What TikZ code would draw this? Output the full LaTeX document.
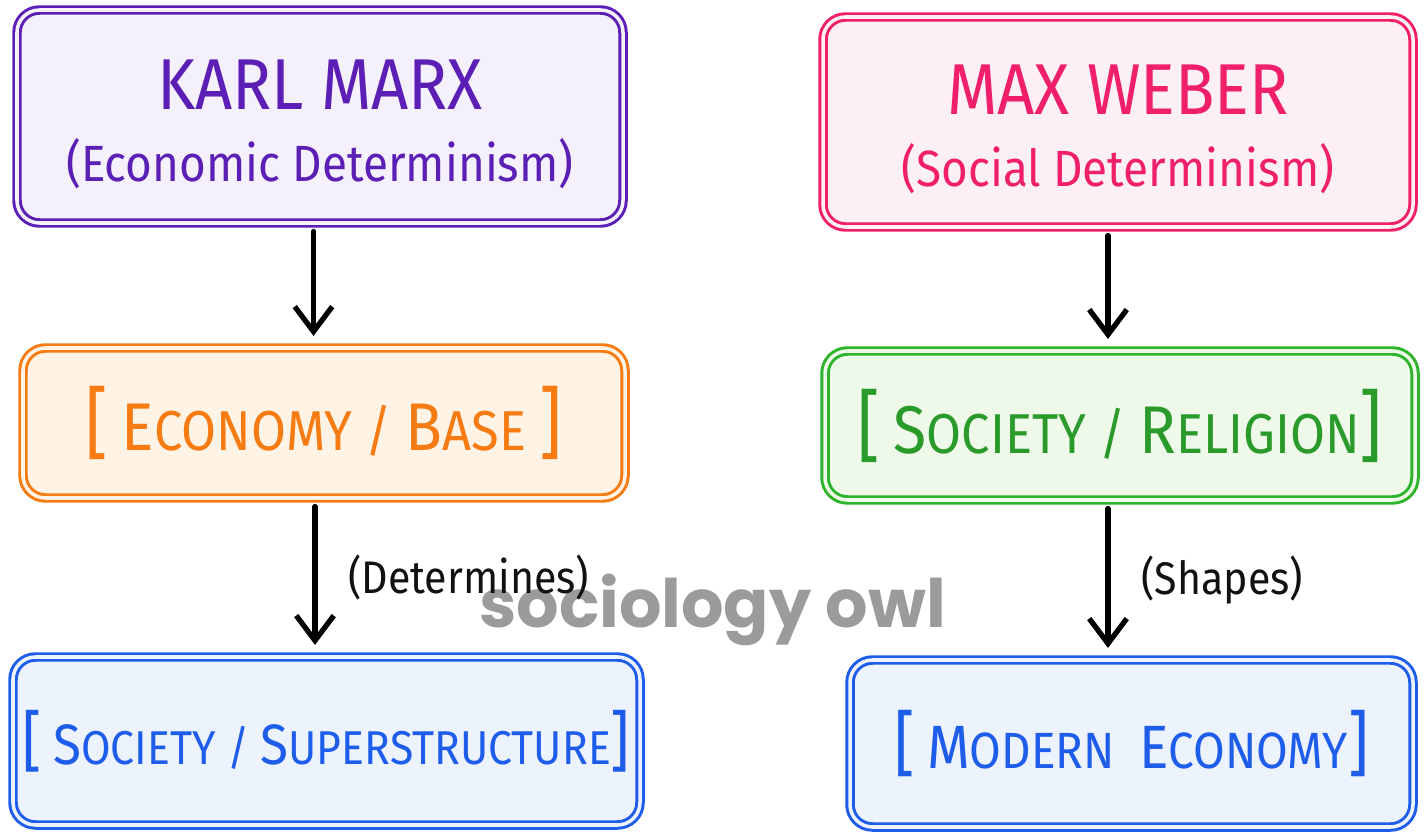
\documentclass[tikz,border=0pt]{standalone}
\usepackage{fontspec}
\setmainfont{Fira Sans}[FakeStretch=0.9]
\newfontfamily\markfont{Poppins}
\usetikzlibrary{arrows.meta,positioning}
\definecolor{ink}{HTML}{111111}
\definecolor{plum}{HTML}{5B1FB5}
\definecolor{plumfill}{HTML}{F4F0FC}
\definecolor{rose}{HTML}{F01F6A}
\definecolor{rosefill}{HTML}{FDF0F5}
\definecolor{amber}{HTML}{F57B12}
\definecolor{amberfill}{HTML}{FEF3E4}
\definecolor{leaf}{HTML}{2DB42A}
\definecolor{leaftext}{HTML}{2A9B2A}
\definecolor{leaffill}{HTML}{EEF9EA}
\definecolor{sky}{HTML}{1E5CEA}
\definecolor{skyfill}{HTML}{EDF3FD}
\definecolor{mark}{HTML}{9B9B9B}
\makeatletter
\newcommand\inl[1]{{\fontsize{\strip@pt\dimexpr\f@size pt*6/5\relax}{0}\selectfont #1}}
\newcommand\sqb[1]{{\fontsize{\strip@pt\dimexpr\f@size pt*7/5\relax}{0}\selectfont #1}}
\makeatother

\begin{document}
\begin{tikzpicture}[x=1cm,y=1cm,every node/.style={text=ink},card/.style={rounded corners=.45cm,line width=1.7pt,double distance=2pt,align=center,inner sep=0pt},head/.style={font=\fontsize{29}{41}\selectfont},tag/.style={font=\fontsize{#1}{#1}\selectfont},note/.style={font=\fontsize{26}{26}\selectfont,anchor=west},flow/.style={-{Straight Barb[length=5mm,width=7.5mm]},line width=3pt,line cap=round,shorten <=4pt,shorten >=6pt}]
\useasboundingbox (0,0) rectangle (28.52,16.76);

\node[card,head,draw=plum,double=plumfill,fill=plumfill,text=plum,minimum width=12.12cm,minimum height=4.26cm] (marx) at (6.4,14.43) {{\fontsize{41}{41}\selectfont\rule{0pt}{1.3cm}KARL MARX}\\(Economic Determinism)};
\node[card,head,draw=rose,double=rosefill,fill=rosefill,text=rose,minimum width=11.8cm,minimum height=4.2cm] (weber) at (22.36,14.32) {{\fontsize{41}{41}\selectfont\rule{0pt}{1.3cm}MAX WEBER}\\(Social Determinism)};
\node[card,tag=32,draw=amber,double=amberfill,fill=amberfill,text=amber,minimum width=12.04cm,minimum height=3cm] (base) at (6.48,8.3) {\sqb{[}\ \inl{E}CONOMY / \inl{B}ASE \sqb{]}};
\node[card,tag=32,draw=leaf,double=leaffill,fill=leaffill,text=leaftext,minimum width=11.8cm,minimum height=2.98cm] (religion) at (22.4,8.25) {\sqb{[}\ \inl{S}OCIETY / \inl{R}ELIGION\sqb{]}};
\node[card,tag=27,draw=sky,double=skyfill,fill=skyfill,text=sky,minimum width=12.54cm,minimum height=3.36cm] (superstructure) at (6.53,1.94) {\sqb{[}\ \inl{S}OCIETY / \inl{S}UPERSTRUCTURE\sqb{]}};
\node[card,tag=29,draw=sky,double=skyfill,fill=skyfill,text=sky,minimum width=11.26cm,minimum height=3.34cm] (modern) at (22.63,1.89) {\sqb{[}\ \inl{M}ODERN \ \inl{E}CONOMY\sqb{]}};

\node[font=\markfont\bfseries\fontsize{38}{38}\selectfont,text=mark] (owl) at (14.25,4.56) {sociology owl};

\draw[flow] ([xshift=-.13cm]marx.south) -- ([xshift=-.13cm]marx.south |- base.north);
\draw[flow] ([xshift=-.18cm]base.south) -- node[note,midway,right=.5cm] (determines) {(Determines)} ([xshift=-.18cm]base.south |- superstructure.north);
\draw[flow] ([xshift=-.2cm]weber.south) -- ([xshift=-.2cm]weber.south |- religion.north);
\draw[flow] ([xshift=-.24cm]religion.south) -- node[note,midway,right=.5cm] (shapes) {(Shapes)} ([xshift=-.24cm]religion.south |- modern.north);

\end{tikzpicture}
\end{document}
